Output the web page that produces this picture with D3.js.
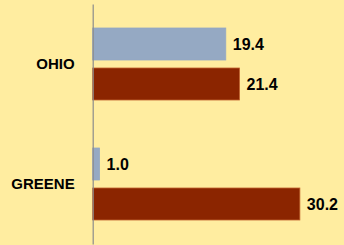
<!DOCTYPE html>
<html>
<head>
<meta charset="utf-8">
<script src="https://d3js.org/d3.v7.min.js"></script>
<style>
  body { margin: 0; background: #FFEDA0; }
  svg { display: block; }
  .cat { font: bold 15px "Liberation Sans", Arial, sans-serif; fill: #000; }
  .val { font: bold 16px "Liberation Sans", Arial, sans-serif; fill: #000; }
</style>
</head>
<body>
<svg id="chart" width="344" height="245"></svg>
<script>
// chart data
var categories = ["OHIO", "GREENE"];
var seriesNames = ["first", "second"];
var firstValues = [19.4, 1.0];
var secondValues = [21.4, 30.2];
var seriesColors = ["#95A9C3", "#8B2500"];
var seriesStroke = ["#95A9C3", "#C0622E"];

var svg = d3.select("#chart");
var width = +svg.attr("width"), height = +svg.attr("height");
var margin = {top: 4, right: 0, bottom: 1, left: 92.7};

var rows = categories.map(function(c, i) {
    return {cat: c, values: [firstValues[i], secondValues[i]]};
});

var x = d3.scaleLinear().domain([0, 1]).range([margin.left, margin.left + 6.86]);

var y = d3.scaleBand().domain(categories)
    .range([margin.top, height - margin.bottom]);

var inner = d3.scaleBand().domain(seriesNames)
    .range([24, 96]).paddingInner(0.2);

var groups = svg.selectAll("g.grp")
    .data(rows)
    .enter().append("g")
    .attr("class", "grp")
    .attr("transform", function(d) { return "translate(0," + y(d.cat) + ")"; });

groups.selectAll("rect")
    .data(function(d) { return d.values; })
    .enter().append("rect")
    .attr("x", x(0))
    .attr("y", function(d, i) { return inner(seriesNames[i]); })
    .attr("width", function(d) { return x(d) - x(0); })
    .attr("height", inner.bandwidth())
    .attr("fill", function(d, i) { return seriesColors[i]; })
    .attr("stroke", function(d, i) { return seriesStroke[i]; })
    .attr("stroke-width", 0.8);

groups.selectAll("text.val")
    .data(function(d) { return d.values; })
    .enter().append("text")
    .attr("class", "val")
    .attr("x", function(d) { return x(d) + 7; })
    .attr("y", function(d, i) { return inner(seriesNames[i]) + inner.bandwidth() / 2; })
    .attr("dy", "0.36em")
    .text(function(d) { return d.toFixed(1); });

// category axis
var axis = svg.append("g")
    .attr("transform", "translate(" + x(0) + ",0)")
    .call(d3.axisLeft(y).tickSize(0).tickPadding(18));
axis.select(".domain").attr("stroke", "#8C8C8C").attr("stroke-width", 1.2);
axis.selectAll(".tick text").attr("class", "cat").attr("font-size", null).attr("font-family", null);
</script>
</body>
</html>
